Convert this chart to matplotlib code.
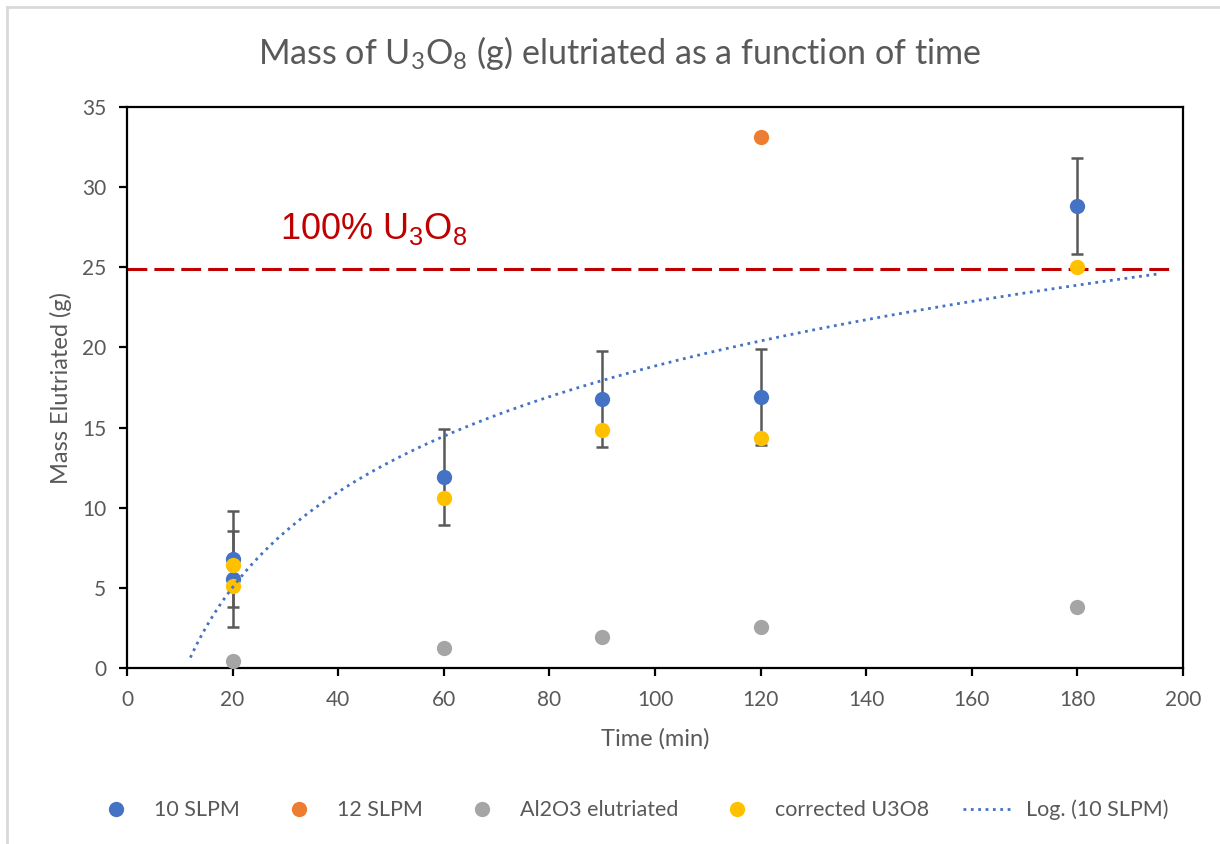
import numpy as np
import matplotlib
matplotlib.use("Agg")
import matplotlib.pyplot as plt
from matplotlib.lines import Line2D

plt.rcParams['font.family'] = ['Lato', 'DejaVu Sans']

# Data
time_10 = [20, 20, 60, 90, 120, 180]
mass_10 = [6.8, 5.55, 11.9, 16.8, 16.9, 28.8]
err_10 = [3, 3, 3, 3, 3, 3]
time_12 = [120]
mass_12 = [33.1]
time_al = [20, 60, 90, 120, 180]
mass_al = [0.45, 1.25, 1.93, 2.56, 3.8]
time_corr = [20, 20, 60, 90, 120, 180]
mass_corr = [6.45, 5.1, 10.6, 14.85, 14.35, 25.0]
full_u3o8 = 24.9
trend_range = [12, 195]

blue = '#4472C4'
orange = '#ED7D31'
gray = '#A5A5A5'
yellow = '#FFC000'
txt = '#595959'

fig = plt.figure(figsize=(12.2, 8.44), dpi=100)
ax = fig.add_axes([127/1220, 1-668/844, (1183-127)/1220, (668-107)/844])

ms = 11
ax.errorbar(time_10, mass_10, yerr=err_10, fmt='none', ecolor='#595959',
            elinewidth=1.8, capsize=4.5, capthick=1.8, zorder=2)
ax.plot(time_10, mass_10, 'o', color=blue, ms=ms, mec='none', zorder=3)
ax.plot(time_12, mass_12, 'o', color=orange, ms=ms, mec='none', zorder=3)
ax.plot(time_al, mass_al, 'o', color=gray, ms=ms, mec='none', zorder=3)
ax.plot(time_corr, mass_corr, 'o', color=yellow, ms=ms, mec='none', zorder=4)

# logarithmic trendline fitted to the 10 SLPM series
a, b = np.polyfit(np.log(time_10), mass_10, 1)
xt = np.linspace(trend_range[0], trend_range[1], 300)
ax.plot(xt, a*np.log(xt)+b, ':', color=blue, lw=2.0, zorder=5)

ax.axhline(full_u3o8, xmin=0, xmax=0.99, color='#C00000', lw=2.2, dashes=(6.5, 2.3), zorder=1)
ax.text(29, 27.4, r'100% U$_\mathregular{3}$O$_\mathregular{8}$', color='#C00000',
        fontsize=26, family='Liberation Sans', va='center', ha='left')

ax.set_xlim(0, 200)
ax.set_ylim(0, 35)
ax.set_xticks(range(0, 201, 20))
ax.set_yticks(range(0, 36, 5))
for s in ax.spines.values():
    s.set_color('black')
    s.set_linewidth(1.6)
ax.tick_params(axis='both', direction='out', length=6, width=1.6, color='black',
               labelsize=15, labelcolor=txt)
ax.tick_params(axis='x', pad=10)
ax.tick_params(axis='y', pad=9)
ax.set_xlabel('Time (min)', fontsize=17, color=txt, labelpad=13)
ax.set_ylabel('Mass Elutriated (g)', fontsize=17, color=txt, labelpad=7)

fig.text(619.5/1220, 1-53/844, r'Mass of U$_\mathregular{3}$O$_\mathregular{8}$ (g) elutriated as a function of time',
         fontsize=24.6, color=txt, ha='center', va='center')

handles = [
    Line2D([], [], ls='none', marker='o', color=blue, ms=ms, mec='none'),
    Line2D([], [], ls='none', marker='o', color=orange, ms=ms, mec='none'),
    Line2D([], [], ls='none', marker='o', color=gray, ms=ms, mec='none'),
    Line2D([], [], ls='none', marker='o', color=yellow, ms=ms, mec='none'),
    Line2D([], [], ls=':', color=blue, lw=2.0),
]
labels = ['10 SLPM', '12 SLPM', 'Al2O3 elutriated', 'corrected U3O8', 'Log. (10 SLPM)']
leg = fig.legend(handles, labels, loc='center', bbox_to_anchor=(630/1220, 1-810/844), ncol=5,
                 frameon=False, fontsize=15.5, handlelength=2.3, columnspacing=1.6,
                 handletextpad=0.6)
for t in leg.get_texts():
    t.set_color(txt)

# light outer border (left and top edges visible)
fig.add_artist(Line2D([7/1220, 7/1220], [0, 1-7/844], transform=fig.transFigure,
                      color='#D9D9D9', lw=2))
fig.add_artist(Line2D([7/1220, 1], [1-7/844, 1-7/844], transform=fig.transFigure,
                      color='#D9D9D9', lw=2))

fig.savefig('out.png', dpi=100, facecolor='white')
